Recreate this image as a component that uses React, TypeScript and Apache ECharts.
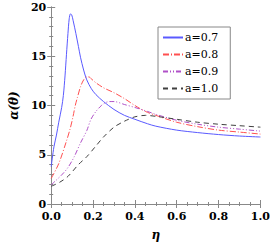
import React, { useEffect, useRef } from "react";
import * as echarts from "echarts";

const seriesNames = ["a=0.7", "a=0.8", "a=0.9", "a=1.0"];
const xTickLabels = ["0.0", "0.2", "0.4", "0.6", "0.8", "1.0"];

const blue: [number, number][] = [
  [0, 3.8], [0.013, 5.8], [0.025, 7.0], [0.036, 8.3], [0.05, 9.8], [0.058, 11.0],
  [0.066, 13.0], [0.073, 15.2], [0.08, 17.3], [0.086, 18.8], [0.092, 19.3],
  [0.098, 19.2], [0.105, 18.6], [0.118, 17.3], [0.13, 16.0], [0.14, 14.9],
  [0.155, 13.6], [0.17, 12.6], [0.192, 11.7], [0.214, 11.1], [0.25, 10.4],
  [0.3, 9.6], [0.35, 9.0], [0.4, 8.6], [0.46, 8.15], [0.5, 7.9], [0.6, 7.5],
  [0.7, 7.25], [0.8, 7.05], [0.9, 6.9], [1.0, 6.8],
];
const red: [number, number][] = [
  [0, 2.6], [0.036, 4.1], [0.073, 6.4], [0.09, 7.6], [0.103, 8.75], [0.115, 10.0],
  [0.125, 10.8], [0.14, 11.9], [0.155, 12.6], [0.17, 12.9], [0.18, 12.9],
  [0.192, 12.7], [0.214, 12.3], [0.25, 11.8], [0.3, 11.3], [0.35, 10.7],
  [0.4, 10.0], [0.45, 9.4], [0.5, 9.0], [0.6, 8.3], [0.7, 7.85], [0.8, 7.5],
  [0.9, 7.3], [1.0, 7.1],
];
const purple: [number, number][] = [
  [0, 1.95], [0.05, 2.95], [0.08, 3.7], [0.11, 4.8], [0.14, 6.2], [0.17, 7.45],
  [0.19, 8.6], [0.214, 9.4], [0.24, 10.0], [0.26, 10.3], [0.28, 10.4], [0.3, 10.4],
  [0.35, 10.1], [0.4, 9.8], [0.46, 9.4], [0.5, 9.1], [0.6, 8.5], [0.7, 8.1],
  [0.8, 7.8], [0.9, 7.6], [1.0, 7.4],
];
const black: [number, number][] = [
  [0, 1.8], [0.04, 2.2], [0.08, 2.8], [0.13, 4.0], [0.17, 4.8], [0.214, 5.9],
  [0.25, 6.8], [0.3, 7.8], [0.34, 8.3], [0.37, 8.6], [0.4, 8.85], [0.45, 9.0],
  [0.5, 8.9], [0.6, 8.6], [0.7, 8.3], [0.8, 8.1], [0.9, 7.95], [1.0, 7.8],
];

const seriesData = [blue, red, purple, black];
const colors = ["#5a5aff", "#ff5050", "#b050c8", "#404040"];
const dashes: any[] = ["solid", [6, 2, 1, 2], [5, 2, 1, 2, 1, 2], [5, 4]];

const serif = "DejaVu Serif";

export default function App() {
  const ref = useRef<HTMLDivElement>(null);
  useEffect(() => {
    const chart = echarts.init(ref.current!, null, { renderer: "svg" });
    const axisLine = { show: true, lineStyle: { color: "#888", width: 1 } };
    const tickStyle = { color: "#888", width: 1 };
    const labelBase = { fontFamily: serif, fontSize: 11, fontWeight: "bold" as const, color: "#000" };
    chart.setOption({
      animation: false,
      textStyle: { fontFamily: serif },
      grid: { left: 37, top: 7, right: 12, bottom: 38 },
      legend: {
        orient: "vertical",
        left: 158,
        top: 27,
        width: 69,
        padding: [5, 12, 5, 4],
        itemWidth: 20,
        itemHeight: 10,
        itemGap: 6,
        borderColor: "#888",
        borderWidth: 1,
        backgroundColor: "#fff",
        itemStyle: { opacity: 0 },
        textStyle: { fontFamily: serif, fontSize: 11, color: "#000", padding: [0, 0, 0, -3] },
        data: seriesNames,
      },
      xAxis: [
        {
          type: "value",
          min: 0,
          max: 1,
          interval: 0.2,
          position: "bottom",
          name: "η",
          nameLocation: "middle",
          nameGap: 25,
          nameTextStyle: { fontFamily: serif, fontSize: 12, fontWeight: "bold", fontStyle: "italic", color: "#000" },
          axisLine,
          axisTick: { show: true, inside: true, length: 4, lineStyle: tickStyle },
          minorTick: { show: true, splitNumber: 4, length: 2, lineStyle: tickStyle },
          axisLabel: {
            ...labelBase,
            margin: 7,
            formatter: (v: number) => xTickLabels[Math.round(v / 0.2)] ?? "",
          },
          splitLine: { show: false },
        },
        {
          type: "value",
          min: 0,
          max: 1,
          interval: 0.2,
          position: "top",
          axisLine,
          axisTick: { show: true, inside: true, length: 4, lineStyle: tickStyle },
          minorTick: { show: true, splitNumber: 4, length: 2, lineStyle: tickStyle },
          axisLabel: { show: false },
          splitLine: { show: false },
        },
      ],
      yAxis: [
        {
          type: "value",
          min: 0,
          max: 20,
          interval: 5,
          position: "left",
          name: "α(θ)",
          nameLocation: "middle",
          nameGap: 19,
          nameRotate: 90,
          nameTextStyle: { fontFamily: serif, fontSize: 12, fontWeight: "bold", fontStyle: "italic", color: "#000" },
          axisLine,
          axisTick: { show: true, inside: true, length: 4, lineStyle: tickStyle },
          minorTick: { show: true, splitNumber: 5, length: 2, lineStyle: tickStyle },
          axisLabel: { ...labelBase, margin: 5 },
          splitLine: { show: false },
        },
        {
          type: "value",
          min: 0,
          max: 20,
          interval: 5,
          position: "right",
          axisLine,
          axisTick: { show: true, inside: true, length: 4, lineStyle: tickStyle },
          minorTick: { show: true, splitNumber: 5, length: 2, lineStyle: tickStyle },
          axisLabel: { show: false },
          splitLine: { show: false },
        },
      ],
      series: seriesNames.map((name, i) => ({
        name,
        type: "line",
        xAxisIndex: 0,
        yAxisIndex: 0,
        data: seriesData[i],
        smooth: 0.3,
        symbol: "none",
        color: colors[i],
        lineStyle: { color: colors[i], width: 1, type: dashes[i] },
      })),
    });
    return () => chart.dispose();
  }, []);
  return <div ref={ref} style={{ width: 273, height: 246, position: "absolute", left: 0, top: 0 }} />;
}
